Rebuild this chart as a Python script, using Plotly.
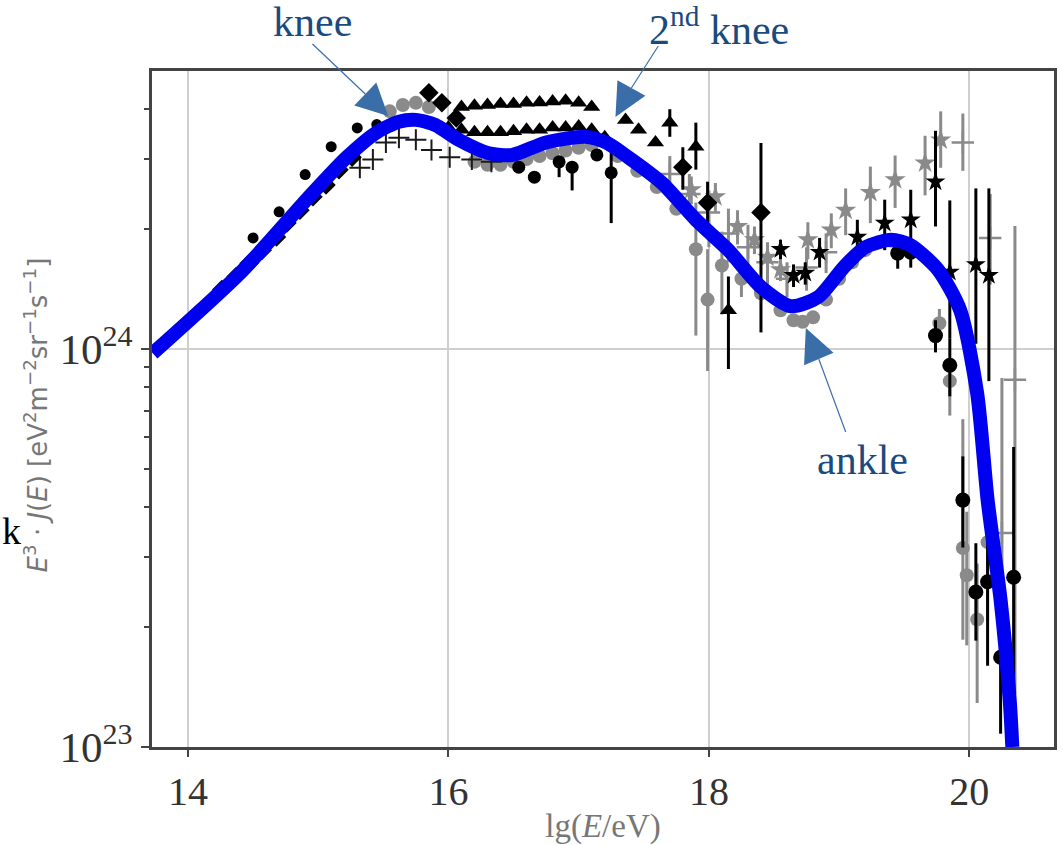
import plotly.graph_objects as go

S = 1e24  # values below are in units of 1e24 eV^2 m^-2 sr^-1 s^-1

# ---- model curve (blue) ----
model_lg = [13.73, 14.40, 14.91, 15.22, 15.45, 15.62, 15.75, 15.90, 16.08, 16.31, 16.49, 16.75, 17.05,
            17.21, 17.38, 17.64, 17.90, 18.15, 18.40, 18.63, 18.84, 19.04, 19.20, 19.40, 19.55,
            19.76, 19.93, 20.06, 20.14, 20.24, 20.31, 20.33]
model_val = [0.975, 1.55, 2.37, 3.03, 3.50, 3.72, 3.76, 3.65, 3.35, 3.10, 3.07, 3.30, 3.41,
             3.30, 3.03, 2.61, 2.11, 1.77, 1.43, 1.28, 1.35, 1.61, 1.80, 1.88, 1.82,
             1.58, 1.25, 0.774, 0.418, 0.234, 0.131, 0.100]

# ---- black circles, low energy ----
bc_lo_lg = [14.50, 14.70, 14.90, 15.10, 15.30, 15.45]
bc_lo_val = [1.90, 2.21, 2.74, 3.22, 3.59, 3.66]

# ---- black diamonds ----
bd_lg = [14.26, 14.37, 14.47, 14.57, 14.68, 14.76, 14.86, 14.96, 15.06, 15.16, 15.26,
         15.85, 15.95, 16.06, 17.80, 17.99, 18.40]
bd_val = [1.41, 1.52, 1.64, 1.77, 1.91, 2.07, 2.23, 2.41, 2.58, 2.82, 3.03,
          4.40, 4.15, 3.80, 2.86, 2.33, 2.20]
bd_up = [0, 0, 0, 0, 0, 0, 0, 0, 0, 0, 0, 0, 0, 0, 0.35, 0.3, 1.09]
bd_dn = [0, 0, 0, 0, 0, 0, 0, 0, 0, 0, 0, 0, 0, 0, 0.35, 0.3, 1.10]

# ---- black triangles ----
bt_lg = [16.1, 16.2, 16.3, 16.4, 16.5, 16.6, 16.7, 16.8, 16.9, 17.0, 17.1,
         16.0, 16.1, 16.2, 16.3, 16.4, 16.5, 16.6, 16.7, 16.8, 16.9, 17.0, 17.1, 17.2,
         17.36, 17.46, 17.59, 17.70, 17.90, 18.15]
bt_val = [4.05, 4.08, 4.10, 4.12, 4.12, 4.15, 4.16, 4.18, 4.20, 4.15, 4.05,
          3.60, 3.55, 3.50, 3.50, 3.50, 3.52, 3.55, 3.55, 3.60, 3.60, 3.62, 3.55, 3.40,
          3.76, 3.55, 3.30, 3.70, 3.22, 1.25]
bt_up = [0] * 24 + [0, 0, 0, 0.30, 0.48, 0.27]
bt_dn = [0] * 24 + [0, 0, 0, 0.29, 0.40, 0.36]

# ---- black plus markers ----
bp_lg = [15.32, 15.42, 15.52, 15.62, 15.75, 15.87, 16.01, 16.18, 16.33]
bp_val = [2.85, 2.99, 3.30, 3.39, 3.35, 3.16, 3.03, 2.99, 2.95]

# ---- black circles, mid energy ----
bc_mid_lg = [16.54, 16.66, 16.85, 16.95, 17.14, 17.25]
bc_mid_val = [2.86, 2.70, 2.95, 2.86, 3.07, 2.77]
bc_mid_up = [0, 0, 0, 0, 0, 0.55]
bc_mid_dn = [0, 0, 0.25, 0.36, 0, 0.70]

# ---- grey circles ----
gc_lg = [15.55, 15.65, 15.75, 15.85, 16.2, 16.3, 16.4, 16.5, 16.6, 16.7, 16.8, 16.9, 17.0, 17.1,
         17.3, 17.45, 17.6, 17.75, 17.9, 17.99, 18.1, 18.25, 18.4, 18.55, 18.65, 18.72, 18.8, 18.9,
         19.0, 19.1, 19.2, 19.3, 19.4, 19.5,
         19.77, 19.85, 19.95, 19.98, 20.06, 20.14]
gc_val = [3.95, 4.10, 4.15, 4.05, 2.95, 2.90, 2.90, 2.95, 3.00, 3.05, 3.10, 3.15, 3.20, 3.25,
          3.05, 2.80, 2.55, 2.25, 1.78, 1.33, 1.62, 1.50, 1.38, 1.25, 1.18, 1.17, 1.20, 1.33,
          1.50, 1.65, 1.77, 1.85, 1.87, 1.82,
          1.16, 0.83, 0.316, 0.27, 0.209, 0.327]
gc_up = [0] * 14 + [0, 0, 0, 0, 0.55, 0.45, 0.35, 0.15, 0, 0, 0, 0, 0, 0,
                    0, 0, 0, 0, 0, 0,
                    0.1, 0.1, 0.35, 0.12, 0.08, 0.2]
gc_dn = [0] * 14 + [0, 0, 0, 0, 0.70, 0.45, 0.40, 0.15, 0, 0, 0, 0, 0, 0,
                    0, 0, 0, 0, 0, 0,
                    0.1, 0.15, 0.13, 0.09, 0.08, 0.12]

# ---- grey plus markers ----
gp_lg = [17.7, 17.85, 18.0, 18.15, 18.3, 18.45, 18.6, 18.75, 18.9, 19.95, 20.16, 20.25, 20.35]
gp_val = [2.75, 2.45, 2.20, 1.95, 1.80, 1.65, 1.50, 1.60, 1.75, 3.30, 1.90, 0.345, 0.836]
gp_up = [0.3, 0.3, 0.3, 0.3, 0.25, 0.2, 0.15, 0.2, 0.2, 0.6, 0.55, 0.5, 1.2]
gp_dn = [0.3, 0.3, 0.4, 0.3, 0.25, 0.2, 0.15, 0.2, 0.2, 0.5, 0.45, 0.2, 0.7]

# ---- grey stars ----
gs_lg = [17.865, 18.05, 18.22, 18.35, 18.45, 18.55, 18.76, 18.94, 19.05, 19.24, 19.43, 19.66, 19.78]
gs_val = [2.51, 2.41, 2.03, 1.88, 1.70, 1.58, 1.88, 1.99, 2.23, 2.47, 2.66, 2.93, 3.35]
gs_up = [0.2, 0.2, 0.2, 0.15, 0.15, 0.1, 0.2, 0.2, 0.3, 0.4, 0.4, 0.5, 0.6]
gs_dn = [0.2, 0.2, 0.2, 0.15, 0.15, 0.1, 0.2, 0.2, 0.3, 0.4, 0.4, 0.5, 0.5]

# ---- black stars ----
bs_lg = [18.55, 18.65, 18.74, 18.85, 19.14, 19.35, 19.55, 19.74, 19.85, 20.05, 20.15]
bs_val = [1.78, 1.53, 1.55, 1.75, 1.91, 2.07, 2.11, 2.63, 1.56, 1.63, 1.53]
bs_up = [0.1, 0.1, 0.1, 0.15, 0.2, 0.3, 0.4, 0.9, 0.8, 0.9, 1.0]
bs_dn = [0.1, 0.1, 0.1, 0.15, 0.2, 0.3, 0.4, 0.6, 0.5, 0.6, 0.7]

# ---- black circles, high energy ----
bc_hi_lg = [19.45, 19.55, 19.74, 19.85, 19.95, 20.05, 20.14, 20.24, 20.34]
bc_hi_val = [1.74, 1.75, 1.08, 0.91, 0.417, 0.245, 0.26, 0.168, 0.267]
bc_hi_up = [0.15, 0.15, 0.1, 0.15, 0.12, 0.08, 0.12, 0.08, 0.3]
bc_hi_dn = [0.15, 0.15, 0.1, 0.15, 0.1, 0.06, 0.1, 0.06, 0.15]

# ---- axis ticks ----
y_tick_vals = [1e23, 1e24]
y_tick_text = ["10<sup>23</sup>", "10<sup>24</sup>"]
y_minor_vals = [2e23, 3e23, 4e23, 5e23, 6e23, 7e23, 8e23, 9e23, 2e24, 3e24, 4e24]
x_tick_vals = [14, 16, 18, 20]

fig = go.Figure()


def add_pts(lg, val, symbol, color, size, up=None, dn=None, lw=0):
    kw = {}
    if up is not None:
        kw["error_y"] = dict(type="data", symmetric=False,
                             array=[u * S for u in up], arrayminus=[d * S for d in dn],
                             color=color, thickness=3, width=0)
    marker = dict(symbol=symbol, color=color, size=size)
    if lw:
        marker["line"] = dict(color=color, width=lw)
    fig.add_trace(go.Scatter(x=lg, y=[v * S for v in val], mode="markers",
                             marker=marker, showlegend=False, **kw))


GREY = "#8a8a8a"
add_pts(gc_lg, gc_val, "circle", GREY, 14, gc_up, gc_dn)
add_pts(gp_lg, gp_val, "cross-thin", GREY, 16, gp_up, gp_dn, lw=2.5)
add_pts(gs_lg, gs_val, "star", GREY, 16, gs_up, gs_dn)
add_pts(bp_lg, bp_val, "cross-thin", "#1a1a1a", 15, lw=2)
add_pts(bc_lo_lg, bc_lo_val, "circle", "black", 11)
add_pts(bd_lg, bd_val, "diamond", "black", 15, bd_up, bd_dn)
add_pts(bt_lg, bt_val, "triangle-up", "black", 15, bt_up, bt_dn)
add_pts(bc_mid_lg, bc_mid_val, "circle", "black", 13, bc_mid_up, bc_mid_dn)
add_pts(bs_lg, bs_val, "star", "black", 15, bs_up, bs_dn)
add_pts(bc_hi_lg, bc_hi_val, "circle", "black", 15, bc_hi_up, bc_hi_dn)

fig.add_trace(go.Scatter(x=model_lg, y=[v * S for v in model_val], mode="lines",
                         line=dict(color="#0000f0", width=14, shape="spline", smoothing=0.7),
                         showlegend=False))

# ---- annotations (labels and arrows) ----
L, T, W, H = 152, 71, 905, 676


def px(xp):
    return (xp - L) / W


def py(yp):
    return (T + H - yp) / H


ANN = "#1b4a7e"
ARW = "#3a6ea8"
labels = [("knee", 313, 22), ("2<sup>nd</sup> knee", 721, 26), ("ankle", 865, 460)]
for txt, xx, yy in labels:
    fig.add_annotation(text=txt, x=px(xx), y=py(yy), xref="paper", yref="paper",
                       xanchor="center", yanchor="middle", borderpad=0,
                       showarrow=False, font=dict(family="Liberation Serif", size=42, color=ANN))
fig.add_annotation(text="k", x=px(0), y=py(531), xref="paper", yref="paper",
                   xanchor="left", yanchor="middle", borderpad=0,
                   showarrow=False, font=dict(family="Liberation Serif", size=38, color="black"))

# y-axis title placed as rotated annotation
fig.add_annotation(
    text="<i>E</i><sup>3</sup> · <i>J</i>(<i>E</i>) [eV<sup>2</sup>m<sup>−2</sup>sr<sup>−1</sup>s<sup>−1</sup>]",
    x=px(36), y=py(415), xref="paper", yref="paper", xanchor="center", yanchor="middle",
    textangle=-90, showarrow=False,
    font=dict(family="DejaVu Sans", size=26, color="#777777"))

arrows = [  # (line start, head base centre, tip)
    ((313, 44), (366, 94), (389, 116)),
    ((660, 46), (633, 88), (617, 117)),
    ((848, 432), (821, 359), (808, 328)),
]
for (x0, y0), (xb, yb), (xt, yt) in arrows:
    fig.add_shape(type="line", xref="paper", yref="paper",
                  x0=px(x0), y0=py(y0), x1=px(xb), y1=py(yb),
                  line=dict(color=ARW, width=1.2))
    dx, dy = xt - xb, yt - yb
    n = (dx * dx + dy * dy) ** 0.5
    ox, oy = -dy / n * 16, dx / n * 16
    pts = [(xt, yt), (xb + ox, yb + oy), (xb - ox, yb - oy)]
    path = "M " + " L ".join(f"{px(a):.5f},{py(b):.5f}" for a, b in pts) + " Z"
    fig.add_shape(type="path", xref="paper", yref="paper", path=path,
                  fillcolor=ARW, line=dict(color=ARW, width=0))

AX = "#444444"
fig.update_layout(
    width=1063, height=845,
    margin=dict(l=L, r=1063 - L - W, t=T, b=845 - T - H),
    plot_bgcolor="white", paper_bgcolor="white",
    font=dict(family="Liberation Serif", color="#333333"),
)
fig.update_xaxes(
    range=[13.724, 20.65], tickvals=x_tick_vals, ticks="outside", ticklen=7,
    tickcolor=AX, tickwidth=2,
    showgrid=True, gridcolor="#cfcfcf", gridwidth=2, zeroline=False,
    showline=True, linecolor=AX, linewidth=2.5, mirror=True,
    tickfont=dict(family="Liberation Serif", size=40, color="#333333"),
    title=dict(text="lg(<i>E</i>/eV)", font=dict(family="Liberation Serif", size=33, color="#777777"),
               standoff=2),
)
fig.update_yaxes(
    type="log", range=[23, 24.698], tickvals=y_tick_vals, ticktext=y_tick_text,
    ticks="outside", ticklen=8, tickcolor=AX, tickwidth=2,
    minor=dict(tickvals=y_minor_vals, ticks="outside", ticklen=5, tickcolor=AX, tickwidth=2,
               showgrid=False),
    showgrid=True, gridcolor="#cfcfcf", gridwidth=2, zeroline=False,
    showline=True, linecolor=AX, linewidth=2.5, mirror=True,
    tickfont=dict(family="Liberation Serif", size=43, color="#333333"),
)

fig.write_html("out.html")
